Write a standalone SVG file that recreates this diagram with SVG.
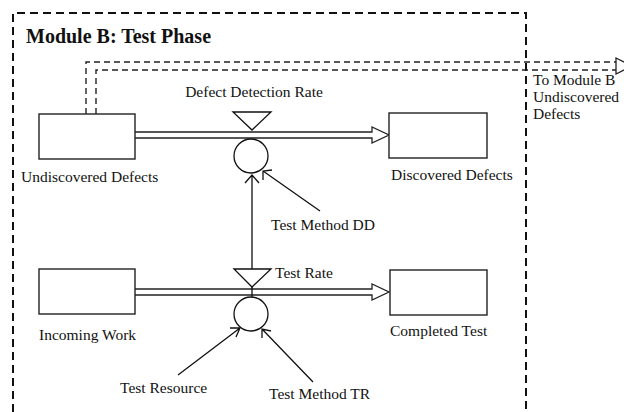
<svg xmlns="http://www.w3.org/2000/svg" width="624" height="412" viewBox="0 0 624 412">
<style>
text{font-family:"Liberation Serif","Times New Roman",serif;font-size:15.5px;fill:#111}
.title{font-weight:bold;font-size:20px}
.box{fill:#fff;stroke:#222;stroke-width:1.4}
.pipe{fill:none;stroke:#222;stroke-width:1.3}
.valve{fill:#fff;stroke:#111;stroke-width:1.3}
.link{fill:none;stroke:#111;stroke-width:1.3}
.frame{fill:none;stroke:#111;stroke-width:2;stroke-dasharray:8 5}
.dash{fill:none;stroke:#222;stroke-width:1.4;stroke-dasharray:6 4}
</style>
<rect width="624" height="412" fill="#fff"/>
<g id="module-frame">
<path class="frame" d="M13,412 V13 H526 V412"/>
<text class="title" x="26" y="43">Module B: Test Phase</text>
</g>
<g id="connectors">
<path class="dash" d="M86,114 V62 H617"/>
<path class="dash" d="M96,114 V70 H617"/>
<polygon points="616,58 632,66 616,74" fill="#fff" stroke="#222" stroke-width="1.3"/>
<path class="pipe" d="M135,132 H372 V127 L389,135 L372,143 V138 H135"/>
<path class="pipe" d="M135,289 H372 V284 L389,292 L372,300 V295 H135"/>
<path class="link" d="M252,297 V175 M245,183 L252,175 L259,183"/>
<path class="link" d="M320,211 L263,171 M263,180 L263,171 L272,170"/>
<path class="link" d="M178,375 L240,328 M236,337 L240,328 L230,328"/>
<path class="link" d="M313,382 L262,329 M262,338 L262,329 L271,331"/>
</g>
<g id="undiscovered-defects">
<rect class="box" x="39" y="114" width="96" height="45"/>
<text x="21" y="182">Undiscovered Defects</text>
</g>
<g id="discovered-defects">
<rect class="box" x="389" y="113" width="98" height="45"/>
<text x="391" y="180">Discovered Defects</text>
</g>
<g id="defect-detection-rate">
<text x="254" y="97" text-anchor="middle">Defect Detection Rate</text>
<polygon class="valve" points="233,112 271,112 252,130"/>
<circle class="valve" cx="251" cy="156" r="17"/>
</g>
<g id="test-method-dd">
<text x="271" y="230">Test Method DD</text>
</g>
<g id="incoming-work">
<rect class="box" x="39" y="269" width="96" height="45"/>
<text x="39" y="340">Incoming Work</text>
</g>
<g id="completed-test">
<rect class="box" x="390" y="270" width="97" height="45"/>
<text x="390" y="336">Completed Test</text>
</g>
<g id="test-rate">
<polygon class="valve" points="234,269 271,269 252,287" fill="none"/>
<circle class="valve" cx="251" cy="314" r="17"/>
<text x="275" y="278">Test Rate</text>
</g>
<g id="test-resource">
<text x="120" y="393">Test Resource</text>
</g>
<g id="test-method-tr">
<text x="269" y="399">Test Method TR</text>
</g>
<g id="to-module-b">
<text x="533" y="85">To Module B</text>
<text x="533" y="102">Undiscovered</text>
<text x="533" y="119">Defects</text>
</g>
</svg>
